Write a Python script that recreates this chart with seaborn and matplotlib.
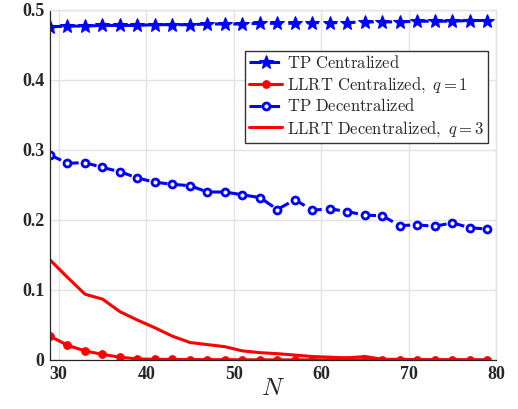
import numpy as np
import pandas as pd
import matplotlib
matplotlib.use("Agg")
import matplotlib.pyplot as plt
import seaborn as sns

N = [29, 31, 33, 35, 37, 39, 41, 43, 45, 47, 49, 51, 53,
     55, 57, 59, 61, 63, 65, 67, 69, 71, 73, 75, 77, 79]

tp_central = [0.476, 0.477, 0.477, 0.478, 0.478, 0.478, 0.479, 0.479, 0.479,
              0.480, 0.480, 0.480, 0.481, 0.481, 0.481, 0.482, 0.482, 0.482,
              0.483, 0.483, 0.483, 0.484, 0.484, 0.484, 0.485, 0.485]

llrt_central = [0.034, 0.021, 0.013, 0.008, 0.004, 0.0015, 0.001, 0.0008, 0.0006,
                0.0005, 0.0004, 0.0003, 0.0003, 0.0002, 0.0002, 0.0002, 0.0001,
                0.0001, 0.0001, 0.0001, 0.0001, 0.0001, 0.0001, 0.0, 0.0, 0.0]

tp_decentral = [0.293, 0.281, 0.282, 0.275, 0.269, 0.260, 0.254, 0.251, 0.249,
                0.240, 0.240, 0.236, 0.232, 0.215, 0.229, 0.214, 0.216, 0.212,
                0.207, 0.206, 0.192, 0.193, 0.191, 0.196, 0.189, 0.187]

llrt_decentral = [0.143, 0.118, 0.094, 0.087, 0.069, 0.057, 0.046, 0.034, 0.025,
                  0.022, 0.019, 0.013, 0.0105, 0.009, 0.007, 0.005, 0.004, 0.003,
                  0.005, 0.001, 0.001, 0.0005, 0.0005, 0.0003, 0.0002, 0.0001]

labels = [r"$\mathrm{TP\ Centralized}$",
          r"$\mathrm{LLRT\ Centralized},\ q=1$",
          r"$\mathrm{TP\ Decentralized}$",
          r"$\mathrm{LLRT\ Decentralized},\ q=3$"]

x_ticks = [30, 40, 50, 60, 70, 80]
y_ticks = [0, 0.1, 0.2, 0.3, 0.4, 0.5]
y_ticklabels = ["0", "0.1", "0.2", "0.3", "0.4", "0.5"]

sns.set_style("white")
plt.rcParams["font.family"] = ["Liberation Serif", "DejaVu Serif"]
plt.rcParams["mathtext.fontset"] = "cm"

fig = plt.figure(figsize=(5.18, 4.09), dpi=100)
ax = fig.add_axes([50 / 518, 1 - 360 / 409, 446 / 518, 350 / 409])

blue = "#0000ff"
red = "#ff0000"

sns.lineplot(x=N, y=tp_central, ax=ax, color=blue, lw=2.2, linestyle=(0, (4, 2)),
             marker="*", markersize=10, markerfacecolor=blue, markeredgecolor=blue,
             label=labels[0])
sns.lineplot(x=N, y=llrt_central, ax=ax, color=red, lw=2.2, linestyle="-",
             marker="o", markersize=5.5, markerfacecolor=red, markeredgecolor=red,
             label=labels[1])
sns.lineplot(x=N, y=tp_decentral, ax=ax, color=blue, lw=2.2, linestyle=(0, (4, 2)),
             marker="o", markersize=5, markerfacecolor="white", markeredgecolor=blue,
             markeredgewidth=2, label=labels[2])
sns.lineplot(x=N, y=llrt_decentral, ax=ax, color=red, lw=2.2, linestyle="-",
             label=labels[3])

ax.set_xlim(29, 80)
ax.set_ylim(0, 0.5)
ax.set_xticks(x_ticks)
ax.set_yticks(y_ticks)
ax.set_yticklabels(y_ticklabels)
ax.grid(True, color="#e3e3e3", lw=1)
ax.set_axisbelow(True)

for lbl in ax.get_xticklabels() + ax.get_yticklabels():
    lbl.set_fontweight("bold")
    lbl.set_fontsize(13)
ax.tick_params(direction="in", length=4, width=0.8, colors="#262626", pad=4)

for side in ["left", "bottom"]:
    ax.spines[side].set_color("#262626")
    ax.spines[side].set_linewidth(0.9)
for side in ["top", "right"]:
    ax.spines[side].set_color("#e3e3e3")
    ax.spines[side].set_linewidth(1)

ax.set_xlabel(r"$N$", fontsize=18, labelpad=-3)
ax.set_ylabel("")

leg = ax.legend(loc="upper right", bbox_to_anchor=(0.983, 0.884), fontsize=12,
                frameon=True, fancybox=False, edgecolor="#333333", framealpha=1,
                handlelength=2.0, handletextpad=0.3, labelspacing=0.2,
                borderpad=0.25, borderaxespad=0.0)
leg.get_frame().set_linewidth(1)

fig.savefig("out.png", dpi=100)
